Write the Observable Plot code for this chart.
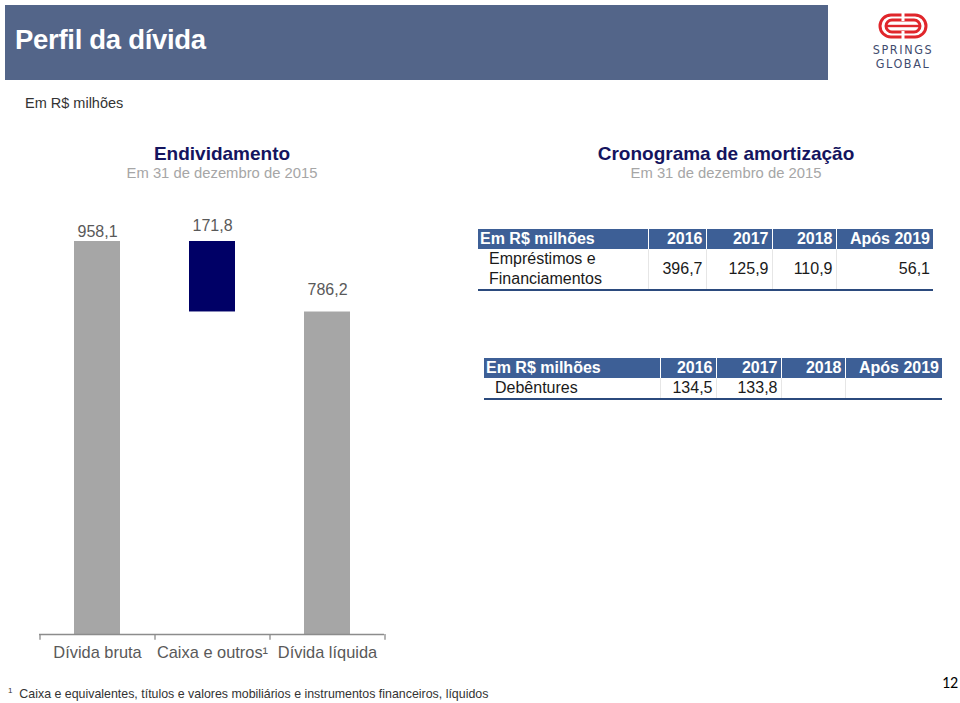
<!DOCTYPE html>
<html>
<head>
<meta charset="utf-8">
<script src="https://cdn.jsdelivr.net/npm/d3@7"></script>
<script src="https://cdn.jsdelivr.net/npm/@observablehq/plot@0.6"></script>
<style>
  html, body { margin: 0; padding: 0; background: #fff; }
  body { width: 960px; height: 703px; position: relative; overflow: hidden; font-family: "Liberation Sans", Arial, sans-serif; }
  .abs { position: absolute; }
  #band { left: 5px; top: 5px; width: 823px; height: 75px; background: #536589; }
  #title { left: 15px; top: 24px; color: #fff; font-size: 27.5px; font-weight: bold; letter-spacing: -0.3px; }
  #unit { left: 25px; top: 95px; font-size: 14.5px; color: #333; }
  .ttl { font-size: 19px; font-weight: bold; color: #14145e; text-align: center; width: 400px; }
  .sub { font-size: 14.8px; color: #a6a6a6; text-align: center; width: 400px; }
  table { border-collapse: collapse; font-size: 16px; table-layout: fixed; }
  th { background: #3d5f96; color: #fff; font-weight: bold; text-align: right; padding: 0 3px 0 0; border-left: 1px solid #fff; height: 20px; line-height: 20px; white-space: nowrap; overflow: visible; }
  th:first-child { text-align: left; border-left: none; padding-left: 2px; }
  td { text-align: right; padding: 0 3px 0 0; border-left: 1px solid #e6e6e6; color: #1a1a1a; white-space: nowrap; }
  td:first-child { text-align: left; border-left: none; padding-left: 11px; }
  tbody tr { border-bottom: 2px solid #2b4a7d; }
  #logo { left: 862px; top: 13px; width: 82px; text-align: center; }
  #logo svg { display: block; margin: 0 auto 4px auto; }
  #logo .w { color: #3f4c6e; font-size: 12.5px; letter-spacing: 1.6px; line-height: 13.5px; font-family: "DejaVu Sans Condensed", "DejaVu Sans", sans-serif; }
  #foot { left: 8px; top: 686px; font-size: 12.4px; color: #333; }
  #page { left: 942px; top: 673px; font-size: 16px; color: #000; font-family: Carlito, "DejaVu Sans", sans-serif; }
  #chart { left: 0px; top: 190px; }
</style>
</head>
<body>
<div id="band" class="abs"></div>
<div id="title" class="abs">Perfil da dívida</div>
<div id="logo" class="abs">
  <svg width="50" height="26" viewBox="0 0 50 26">
    <rect x="2" y="2" width="46" height="22" rx="11" fill="none" stroke="#e0262b" stroke-width="3"/>
    <rect x="8" y="7" width="34" height="12" rx="6" fill="none" stroke="#e0262b" stroke-width="3"/>
    <rect x="8" y="11.8" width="34" height="2.4" fill="#e0262b"/>
    <rect x="23.5" y="0" width="3" height="8" fill="#fff"/>
    <rect x="23.5" y="18" width="3" height="8" fill="#fff"/>
  </svg>
  <div class="w">SPRINGS</div>
  <div class="w">GLOBAL</div>
</div>
<div id="unit" class="abs">Em R$ milhões</div>
<div class="abs ttl" style="left:22px; top:143px;">Endividamento</div>
<div class="abs sub" style="left:22px; top:165px;">Em 31 de dezembro de 2015</div>
<div class="abs ttl" style="left:526px; top:143px;">Cronograma de amortização</div>
<div class="abs sub" style="left:526px; top:165px;">Em 31 de dezembro de 2015</div>
<div id="t1" class="abs" style="left:478px; top:229px;"></div>
<div id="t2" class="abs" style="left:484px; top:358px;"></div>
<div id="chart" class="abs"></div>
<div id="foot" class="abs"><sup style="font-size:8px;">1</sup>&nbsp; Caixa e equivalentes, títulos e valores mobiliários e instrumentos financeiros, líquidos</div>
<div id="page" class="abs">12</div>
<script>
// ---- Data ----
const categories = ["Dívida bruta", "Caixa e outros¹", "Dívida líquida"];
const values = [958.1, 171.8, 786.2];
const kinds = ["total", "decrease", "total"];

const tableHeaderLabel = "Em R$ milhões";
const years = ["2016", "2017", "2018", "Após 2019"];
const loansLabel = "Empréstimos e<br>Financiamentos";
const loansValues = [396.7, 125.9, 110.9, 56.1];
const debLabel = "Debêntures";
const debValues = [134.5, 133.8, null, null];

// ---- Waterfall ----
const fmt = v => v == null ? "" : v.toFixed(1).replace(".", ",");
let running = 0;
const rows = categories.map((c, i) => {
  let y1, y2;
  if (kinds[i] === "total") { y1 = 0; y2 = values[i]; running = values[i]; }
  else { y2 = running; y1 = running - values[i]; running = y1; }
  return {cat: c, y1, y2, kind: kinds[i], label: fmt(values[i])};
});

const labelOffsets = [-5, -11, -17];
const chart = Plot.plot({
  width: 420,
  height: 480,
  marginLeft: 39,
  marginRight: 36,
  marginTop: 51,
  marginBottom: 36,
  style: {fontFamily: "Liberation Sans, Arial, sans-serif", background: "transparent"},
  x: {type: "band", domain: categories, paddingInner: 0.6, paddingOuter: 0.3, axis: null},
  y: {domain: [0, values[0]], axis: null},
  marks: [
    Plot.barY(rows, {x: "cat", y1: "y1", y2: "y2", fill: d => d.kind === "total" ? "#a6a6a6" : "#000066"}),
    Plot.ruleY([0], {stroke: "#8c8c8c", strokeWidth: 1.3}),
    Plot.ruleX(categories, {x: d => d, dx: -57.5, y1: 0, y2: -14, stroke: "#8c8c8c", strokeWidth: 1.3}),
    Plot.ruleX(categories.slice(-1), {x: d => d, dx: 57.5, y1: 0, y2: -14, stroke: "#8c8c8c", strokeWidth: 1.3}),
    ...rows.map((r, i) => Plot.text([r], {x: "cat", y: "y2", text: "label", dy: labelOffsets[i], lineAnchor: "bottom", fill: "#595959", fontSize: 16})),
    Plot.text(rows, {x: "cat", y: 0, text: "cat", dy: 12, lineAnchor: "top", fill: "#595959", fontSize: 16.4})
  ]
});
document.getElementById("chart").appendChild(chart);

// ---- Tables ----
function makeTable(el, label, vals, widths, rowH) {
  const total = widths.reduce((a, b) => a + b, 0);
  const cols = "<colgroup>" + widths.map(w => `<col style="width:${w}px">`).join("") + "</colgroup>";
  const head = `<tr><th>${tableHeaderLabel}</th>` + years.map(y => `<th>${y}</th>`).join("") + "</tr>";
  const body = `<tr style="height:${rowH}px"><td style="line-height:20px">${label}</td>` +
    vals.map(v => `<td>${fmt(v)}</td>`).join("") + "</tr>";
  el.innerHTML = `<table style="width:${total}px">${cols}<thead>${head}</thead><tbody>${body}</tbody></table>`;
}
makeTable(document.getElementById("t1"), loansLabel, loansValues, [170, 58, 66, 64, 97], 41);
makeTable(document.getElementById("t2"), debLabel, debValues, [176, 56, 65, 64, 97], 20);
</script>
</body>
</html>
